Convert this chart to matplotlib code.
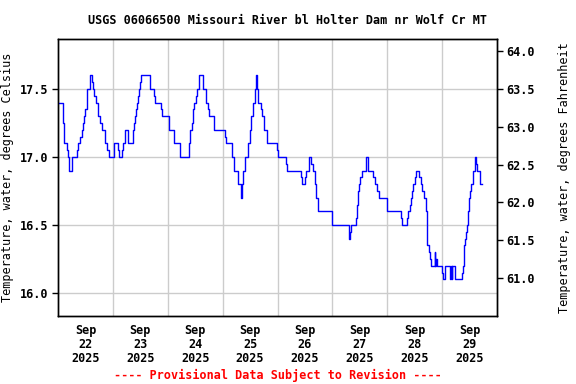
import matplotlib
matplotlib.use("Agg")
import matplotlib.pyplot as plt
import numpy as np

# hours since 2025-09-22 00:00 where the reading changes, and the new reading (deg C)
hours = [0.0, 2.1, 2.55, 3.85, 4.3, 4.6, 5.0, 6.05, 8.2, 8.65, 9.8, 10.4, 10.85, 11.25,
         11.85, 12.6, 14.05, 14.75, 15.2, 15.95, 16.5, 17.4, 18.55, 19.15, 20.75, 21.45,
         22.2, 24.35, 24.65, 26.1, 26.55, 28.0, 28.45, 29.15, 30.75, 32.65, 33.1, 33.65,
         34.1, 34.55, 34.85, 35.25, 35.7, 36.3, 40.2, 42.1, 42.4, 45.0, 45.45, 48.35,
         48.65, 50.85, 53.15, 57.1, 57.8, 58.4, 59.0, 59.55, 60.3, 61.0, 61.75, 63.5,
         64.7, 65.4, 66.1, 68.3, 73.0, 73.4, 76.3, 77.0, 78.9, 79.9, 80.4, 81.1, 81.8,
         83.3, 83.9, 84.6, 85.3, 86.2, 86.6, 87.2, 87.4, 88.7, 89.4, 90.1, 91.6, 95.9,
         96.4, 99.8, 100.3, 106.1, 106.6, 108.0, 108.6, 109.7, 110.8, 111.5, 112.4,
         112.7, 113.8, 119.7, 127.3, 127.75, 128.35, 130.3, 130.7, 131.3, 131.75, 132.2,
         132.8, 134.6, 135.4, 137.8, 138.6, 139.3, 140.4, 144.1, 149.9, 150.3, 152.8,
         153.2, 153.8, 154.2, 154.7, 155.3, 156.1, 156.7, 157.9, 158.7, 159.4, 160.1,
         160.8, 161.2, 161.6, 162.3, 162.9, 163.3, 164.7, 164.9, 165.45, 165.7, 168.1,
         168.6, 169.4, 171.6, 172.0, 172.3, 172.5, 173.5, 176.6, 177.3, 177.7, 178.0,
         178.4, 178.9, 179.5, 179.9, 180.4, 180.7, 181.4, 182.2, 182.6, 183.2, 184.7]
temp_c = [17.4, 17.25, 17.1, 17.05, 17.0, 16.95, 16.9, 17.0, 17.05, 17.1, 17.15, 17.2, 17.25, 17.3,
          17.35, 17.5, 17.6, 17.55, 17.5, 17.45, 17.4, 17.3, 17.25, 17.2, 17.1, 17.05,
          17.0, 17.05, 17.1, 17.05, 17.0, 17.05, 17.1, 17.2, 17.1, 17.2, 17.25, 17.3,
          17.35, 17.4, 17.45, 17.5, 17.55, 17.6, 17.5, 17.45, 17.4, 17.35, 17.3, 17.25,
          17.2, 17.1, 17.0, 17.1, 17.2, 17.25, 17.35, 17.4, 17.45, 17.5, 17.6, 17.5,
          17.4, 17.35, 17.3, 17.2, 17.15, 17.1, 17.0, 16.9, 16.8, 16.7, 16.8, 16.9, 17.0,
          17.1, 17.2, 17.3, 17.4, 17.5, 17.6, 17.5, 17.4, 17.35, 17.3, 17.2, 17.1, 17.05,
          17.0, 16.95, 16.9, 16.85, 16.8, 16.85, 16.9, 17.0, 16.95, 16.9, 16.8,
          16.7, 16.6, 16.5, 16.4, 16.45, 16.5, 16.55, 16.65, 16.75, 16.8, 16.85,
          16.9, 17.0, 16.9, 16.85, 16.8, 16.75, 16.7, 16.6, 16.55, 16.5, 16.55,
          16.6, 16.65, 16.7, 16.75, 16.8, 16.85, 16.9, 16.85, 16.8, 16.75, 16.7,
          16.6, 16.4, 16.35, 16.3, 16.25, 16.2, 16.3, 16.2, 16.25, 16.2, 16.15,
          16.1, 16.2, 16.1, 16.2, 16.1, 16.2, 16.1, 16.15, 16.2, 16.35, 16.4,
          16.45, 16.5, 16.6, 16.7, 16.75, 16.8, 16.9, 17.0, 16.95, 16.9, 16.8]
last_hour = 185.3

day_labels = ["Sep\n22\n2025", "Sep\n23\n2025", "Sep\n24\n2025", "Sep\n25\n2025",
              "Sep\n26\n2025", "Sep\n27\n2025", "Sep\n28\n2025", "Sep\n29\n2025"]
c_ticks = [16.0, 16.5, 17.0, 17.5]
f_ticks = [61.0, 61.5, 62.0, 62.5, 63.0, 63.5, 64.0]

font = "DejaVu Sans Mono"
plt.rcParams['font.family'] = font
plt.rcParams['font.weight'] = 'bold'

fig = plt.figure(figsize=(5.76, 3.84), dpi=100)
ax = fig.add_axes([58/576, 1-316/384, (497-58)/576, (316-39)/384])

t = np.array(hours + [last_hour]) / 24.0
v = np.array(temp_c + [temp_c[-1]])
ax.step(t, v, where='post', color='#0000ff', lw=1.0, zorder=3)

c_lo, c_hi = 15.831, 17.868
ax.set_xlim(0, 8)
ax.set_ylim(c_lo, c_hi)
ax.set_yticks(c_ticks)
ax.set_yticklabels([f"{c:.1f}" for c in c_ticks], fontsize=8.5)
ax.set_xticks(np.arange(len(day_labels)) + 0.5)
ax.set_xticklabels(day_labels, fontsize=8.5, linespacing=1.1)
ax.set_xticks(np.arange(1, 8), minor=True)
ax.tick_params(axis='x', which='both', length=0, pad=6)
ax.tick_params(axis='y', length=4, width=1, pad=3)
ax.grid(True, which='minor', axis='x', color='#cccccc', lw=1)
ax.grid(True, which='major', axis='y', color='#cccccc', lw=1)
ax.set_axisbelow(True)
ax.set_ylabel("Temperature, water, degrees Celsius", fontsize=8.5)
ax.yaxis.set_label_coords((14 - 58) / 439, 0.5)

ax2 = ax.twinx()
ax2.set_ylim(c_lo * 1.8 + 32, c_hi * 1.8 + 32)
ax2.set_yticks(f_ticks)
ax2.set_yticklabels([f"{f:.1f}" for f in f_ticks], fontsize=8.5)
ax2.tick_params(axis='y', length=4, width=1, pad=3)
ax2.set_ylabel("Temperature, water, degrees Fahrenheit", fontsize=8.5)
ax2.yaxis.set_label_coords((558 - 58) / 439, 0.5)

for a in (ax, ax2):
    for s in a.spines.values():
        s.set_linewidth(1.0)

fig.text(0.5, 1-20/384, "USGS 06066500 Missouri River bl Holter Dam nr Wolf Cr MT",
         ha='center', va='center', fontsize=8.5)
fig.text(277.5/576, 1-375/384, "---- Provisional Data Subject to Revision ----",
         ha='center', va='center', fontsize=8.5, color='red')

fig.savefig("out.png", dpi=100)
